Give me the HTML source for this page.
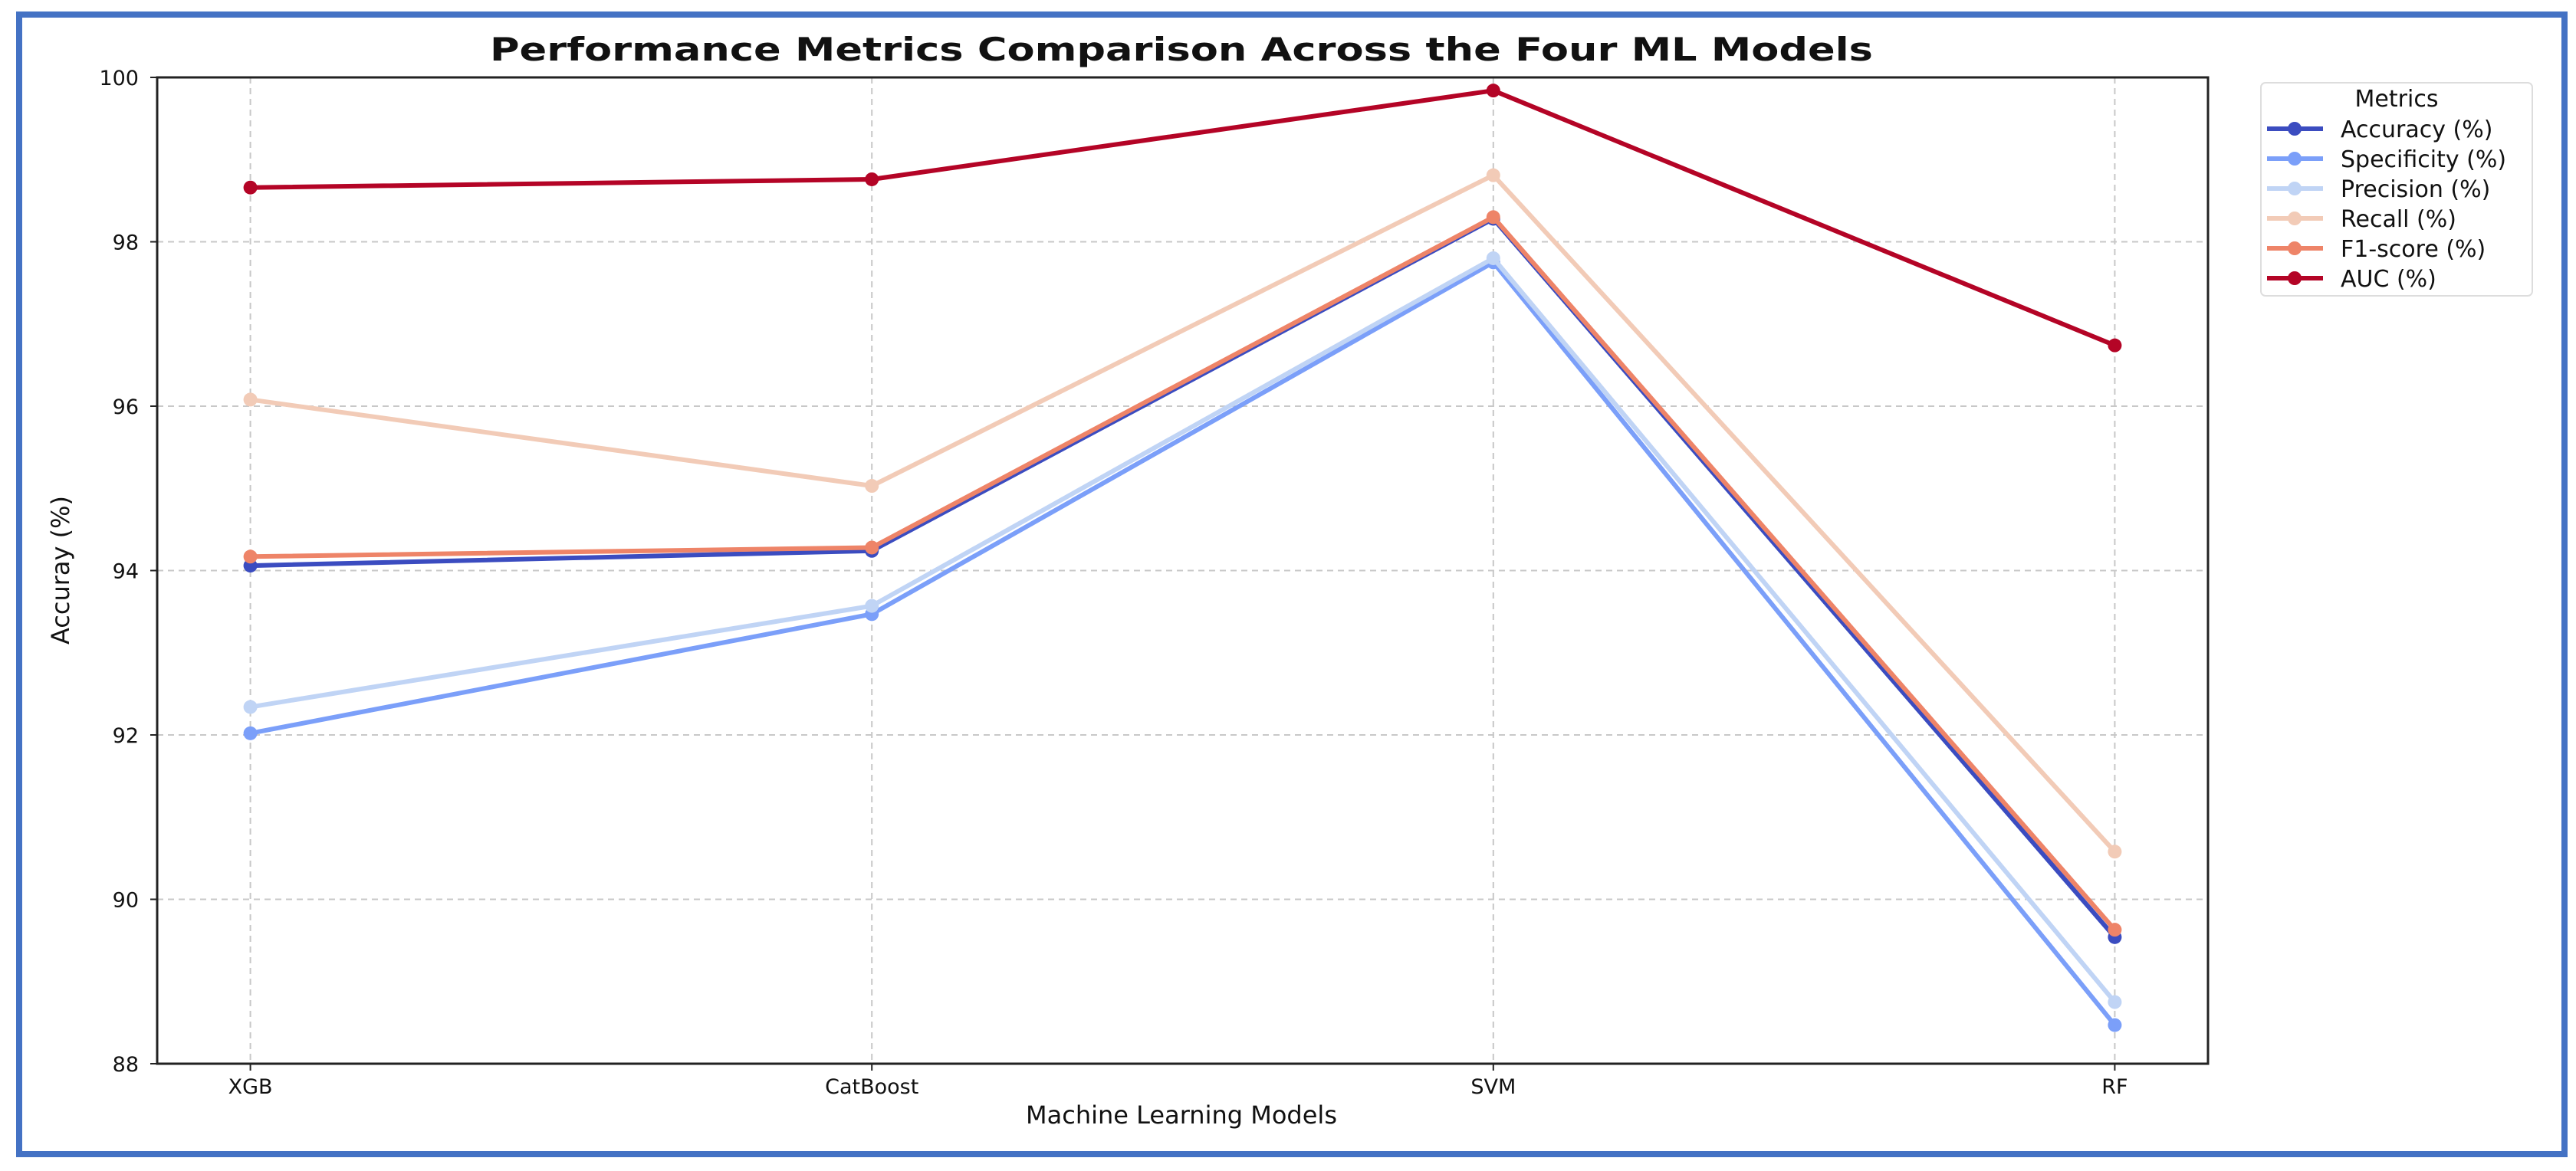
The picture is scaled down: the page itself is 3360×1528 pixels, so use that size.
<!DOCTYPE html>
<html><head><meta charset="utf-8"><style>
html,body{margin:0;padding:0;background:#fff;}
svg{display:block;}
text{font-family:"DejaVu Sans","Liberation Sans",sans-serif;fill:#111;}
</style></head><body>
<svg id="chart" width="3360" height="1528" viewBox="0 0 3360 1528" xmlns="http://www.w3.org/2000/svg">
<rect x="25" y="19" width="3320" height="1487" fill="#fff" stroke="#4472c4" stroke-width="8"/>
<text x="639" y="79" font-size="42" font-weight="bold" textLength="1804" lengthAdjust="spacingAndGlyphs">Performance Metrics Comparison Across the Four ML Models</text>
<g id="grid"></g>
<g id="series"></g>
<rect x="205" y="101" width="2675" height="1287" fill="none" stroke="#222" stroke-width="3"/>
<g id="axes"></g>
<text x="1541" y="1466" font-size="32" text-anchor="middle">Machine Learning Models</text>
<text transform="translate(90,744) rotate(-90)" font-size="32" text-anchor="middle">Accuray (%)</text>
<g id="legend">
<rect x="2949" y="108" width="354" height="278" rx="6" fill="#fff" stroke="#ddd" stroke-width="2"/>
<text x="3126" y="139" font-size="30" text-anchor="middle">Metrics</text>
</g>
</svg>
<script>
const categories = ["XGB","CatBoost","SVM","RF"];
const seriesNames = ["Accuracy (%)","Specificity (%)","Precision (%)","Recall (%)","F1-score (%)","AUC (%)"];
const accuracy = [94.06, 94.24, 98.28, 89.54];
const specificity = [92.02, 93.47, 97.75, 88.47];
const precision = [92.34, 93.57, 97.80, 88.75];
const recall = [96.08, 95.03, 98.81, 90.58];
const f1score = [94.17, 94.28, 98.30, 89.63];
const auc = [98.66, 98.76, 99.84, 96.74];
const yTicks = [88, 90, 92, 94, 96, 98, 100];
const colors = ["#3b4cc0","#7b9ff9","#c0d4f5","#f2cbb7","#ee8468","#b40426"];

const NS = "http://www.w3.org/2000/svg";
const L = 205, R = 2880, T = 101, B = 1388;
const yMin = 88, yMax = 100;
function xPos(i){ const n = categories.length; const span = (n - 1) + 0.3; return L + (i + 0.15) / span * (R - L); }
function yPos(v){ return B - (v - yMin) / (yMax - yMin) * (B - T); }
function mk(tag, attrs, parent){ const e = document.createElementNS(NS, tag); for (const k in attrs) e.setAttribute(k, attrs[k]); parent.appendChild(e); return e; }

const grid = document.getElementById('grid');
const axes = document.getElementById('axes');
yTicks.forEach(t => {
  const y = yPos(t);
  const g = mk('line', {x1:L, x2:R, y1:y, y2:y, stroke:'#c8c8c8', 'stroke-width':2, 'stroke-dasharray':'8,6'}, grid);
  
  
  const tk = mk('line', {x1:L-9, x2:L, y1:y, y2:y, stroke:'#222', 'stroke-width':2}, axes);
  
  
  const tl = mk('text', {x:L-24, y:y+10, 'font-size':27, 'text-anchor':'end'}, axes);
  tl.textContent = String(t);
  
  
});
categories.forEach((c, i) => {
  const x = xPos(i);
  const g = mk('line', {x1:x, x2:x, y1:T, y2:B, stroke:'#c8c8c8', 'stroke-width':2, 'stroke-dasharray':'8,6'}, grid);
  
  
  const tk = mk('line', {x1:x, x2:x, y1:B, y2:B+9, stroke:'#222', 'stroke-width':2}, axes);
  
  
  const tl = mk('text', {x:x, y:B+39, 'font-size':27, 'text-anchor':'middle'}, axes);
  tl.textContent = c;
  
  
});

const allSeries = [accuracy, specificity, precision, recall, f1score, auc];
const sg = document.getElementById('series');
const legend = document.getElementById('legend');
allSeries.forEach((vals, s) => {
  const pts = vals.map((v, i) => xPos(i) + ',' + yPos(v)).join(' ');
  const pl = mk('polyline', {points:pts, fill:'none', stroke:colors[s], 'stroke-width':6, 'stroke-linejoin':'round'}, sg);
  
  
  vals.forEach((v, i) => {
    const c = mk('circle', {cx:xPos(i), cy:yPos(v), r:9, fill:colors[s]}, sg);
    
    
  });
  const ly = 168 + s * 39;
  const ll = mk('line', {x1:2957, x2:3030, y1:ly, y2:ly, stroke:colors[s], 'stroke-width':6}, legend);
  
  
  const lc = mk('circle', {cx:2993, cy:ly, r:9, fill:colors[s]}, legend);
  
  
  const lt = mk('text', {x:3053, y:ly+11, 'font-size':30}, legend);
  lt.textContent = seriesNames[s];
  
  
});
</script>
</body></html>
